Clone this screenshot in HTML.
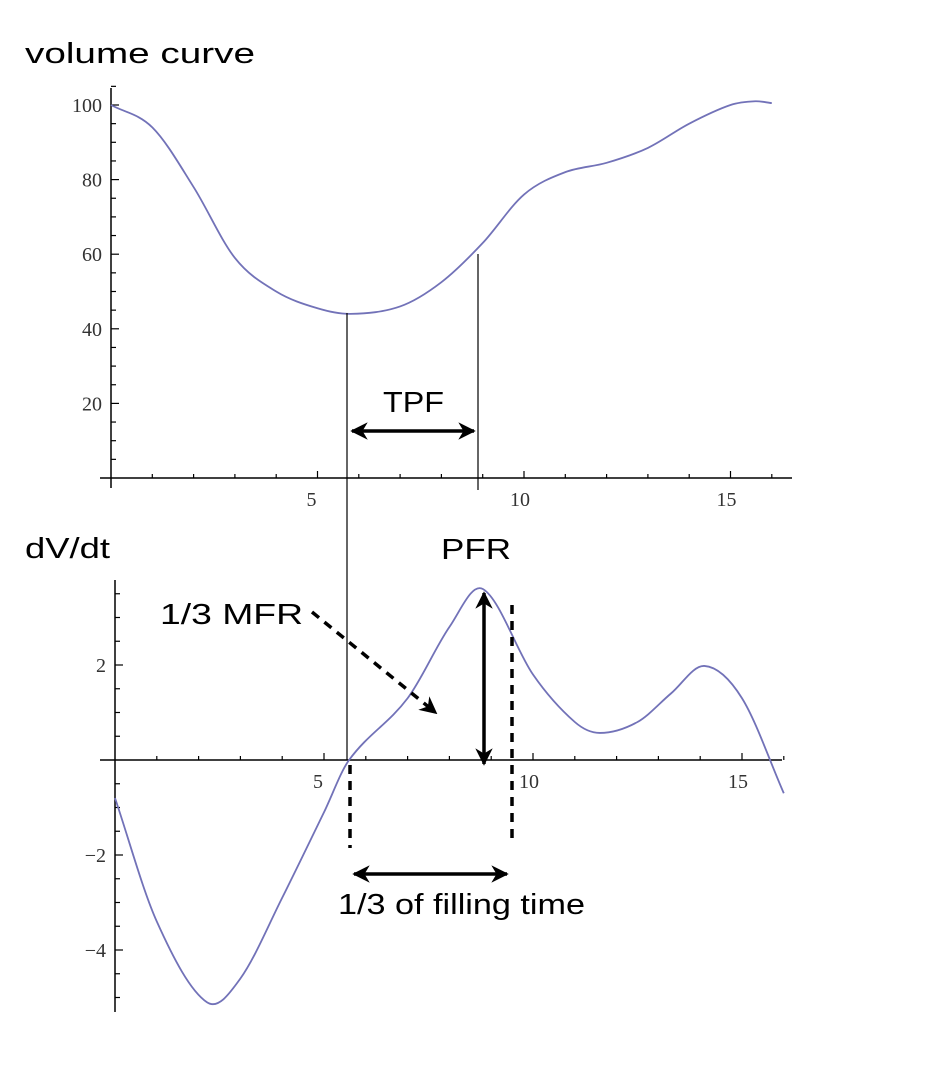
<!DOCTYPE html>
<html><head><meta charset="utf-8"><style>
html,body{margin:0;padding:0;background:#fff;width:949px;height:1072px;overflow:hidden}
svg{display:block}
.tick{font-family:"Liberation Serif",serif;font-size:20px;fill:#333}
.ann{font-family:"Liberation Sans",sans-serif;font-size:29px;fill:#000}
</style></head><body>
<svg id="chart" width="949" height="1072" viewBox="0 0 949 1072">
<defs>
<marker id="ah" viewBox="0 0 10 10" refX="9" refY="5" markerWidth="5" markerHeight="5" orient="auto-start-reverse"><path d="M0,0 L10,5 L0,10 L3,5 z" fill="#000"/></marker>
</defs>
<g id="top"></g>
<g id="bot"></g>
<g id="ann">
<text class="ann" x="25" y="63" textLength="230" lengthAdjust="spacingAndGlyphs">volume curve</text>
<text class="ann" x="25" y="558" textLength="85" lengthAdjust="spacingAndGlyphs">dV/dt</text>
<line x1="347" y1="313" x2="347" y2="760" stroke="#000" stroke-width="1.2"/>
<line x1="478" y1="254" x2="478" y2="490" stroke="#000" stroke-width="1.2"/>
<line x1="352" y1="431" x2="474" y2="431" stroke="#000" stroke-width="3.5" marker-start="url(#ah)" marker-end="url(#ah)"/>
<text class="ann" x="383" y="412" textLength="61" lengthAdjust="spacingAndGlyphs">TPF</text>
<text class="ann" x="441" y="559" textLength="70" lengthAdjust="spacingAndGlyphs">PFR</text>
<line x1="484" y1="593" x2="484" y2="764" stroke="#000" stroke-width="3.5" marker-start="url(#ah)" marker-end="url(#ah)"/>
<line x1="512" y1="605" x2="512" y2="843" stroke="#000" stroke-width="3.5" stroke-dasharray="9,7"/>
<line x1="350" y1="765" x2="350" y2="848" stroke="#000" stroke-width="3.5" stroke-dasharray="9,7"/>
<line x1="354" y1="874" x2="507" y2="874" stroke="#000" stroke-width="3.5" marker-start="url(#ah)" marker-end="url(#ah)"/>
<text class="ann" x="338" y="914" textLength="247" lengthAdjust="spacingAndGlyphs">1/3 of filling time</text>
<text class="ann" x="160" y="624" textLength="143" lengthAdjust="spacingAndGlyphs">1/3 MFR</text>
<line x1="312" y1="612" x2="436" y2="713" stroke="#000" stroke-width="3.5" stroke-dasharray="9,7" marker-end="url(#ah)"/>
</g>
</svg>
<script>
const volT=[0,1,2,3,4,5,5.8,7,8,9,10,11,12,13,14,15,15.6,16];
const volV=[100,94,78,59,50,45.5,44,46,52.5,63,76,82,84.5,88.5,95,100,101,100.5];
const dvT=[0,1,2.2,3,4,5,5.6,7,8,8.8,10,11,11.6,12.5,13.3,14.1,15,16];
const dvV=[-0.8,-3.4,-5.1,-4.6,-2.9,-1.1,0,1.3,2.8,3.6,1.8,0.8,0.57,0.8,1.4,1.98,1.3,-0.7];
const topXTicks=[5,10,15];
const topYTicks=[20,40,60,80,100];
const botXTicks=[5,10,15];
const botYTicks=[-4,-2,2];
const NS="http://www.w3.org/2000/svg";
function mk(p,tag,a){const e=document.createElementNS(NS,tag);for(const k in a)e.setAttribute(k,a[k]);p.appendChild(e);return e;}
function curve(ts,vs,X,Y){
 const n=ts.length,m=[];
 for(let i=0;i<n;i++){
  if(i==0)m.push((vs[1]-vs[0])/(ts[1]-ts[0]));
  else if(i==n-1)m.push((vs[n-1]-vs[n-2])/(ts[n-1]-ts[n-2]));
  else m.push((vs[i+1]-vs[i-1])/(ts[i+1]-ts[i-1]));
 }
 let d="M"+X(ts[0])+","+Y(vs[0]);
 for(let i=0;i<n-1;i++){const h=ts[i+1]-ts[i];
  const c1t=ts[i]+h/3,c1v=vs[i]+m[i]*h/3,c2t=ts[i+1]-h/3,c2v=vs[i+1]-m[i+1]*h/3;
  d+=" C"+X(c1t)+","+Y(c1v)+" "+X(c2t)+","+Y(c2v)+" "+X(ts[i+1])+","+Y(vs[i+1]);}
 return d;
}
function plot(g,o){
 const X=t=>o.x0+t*o.kx, Y=v=>o.y0-v*o.ky;
 let e=mk(g,'line',{x1:o.axL,y1:o.y0,x2:o.axR,y2:o.y0,stroke:'#000','stroke-width':1.5});
 
 e=mk(g,'line',{x1:o.x0,y1:o.axT,x2:o.x0,y2:o.axB,stroke:'#000','stroke-width':1.5});
 
 for(let t=1;t<=16;t++){const s=t%5==0?7:4;mk(g,'line',{x1:X(t),y1:o.y0,x2:X(t),y2:o.y0-s,stroke:'#000','stroke-width':1.2});}
 for(let v=o.mstart;v<=o.mend+1e-9;v+=o.mstep){if(Math.abs(v)<1e-9)continue;const maj=o.yt.some(q=>Math.abs(q-v)<1e-9);mk(g,'line',{x1:o.x0,y1:Y(v),x2:o.x0+(maj?8:5),y2:Y(v),stroke:'#000','stroke-width':1.2});}
 o.xt.forEach(t=>{const tx=mk(g,'text',{x:X(t)-(t>=10?4:6),y:o.y0+28,'class':'tick','text-anchor':'middle'});tx.textContent=t;
  });
 o.yt.forEach(v=>{const tx=mk(g,'text',{x:o.x0-9,y:Y(v)+7,'class':'tick','text-anchor':'end'});tx.textContent=v<0?"\u2212"+(-v):v;
  });
 const p=mk(g,'path',{d:curve(o.t,o.v,X,Y),fill:'none',stroke:'#7272b8','stroke-width':1.8});
 
}
plot(document.getElementById('top'),{x0:111,kx:41.3,y0:478,ky:3.73,axL:100,axR:792,axT:88,axB:488,xt:topXTicks,yt:topYTicks,mstart:5,mend:105,mstep:5,t:volT,v:volV,name:'volume-curve'});
plot(document.getElementById('bot'),{x0:115,kx:41.8,y0:760,ky:47.5,axL:100,axR:782,axT:580,axB:1012,xt:botXTicks,yt:botYTicks,mstart:-5,mend:3.5,mstep:0.5,t:dvT,v:dvV,name:'derivative-curve'});
</script>
</body></html>
